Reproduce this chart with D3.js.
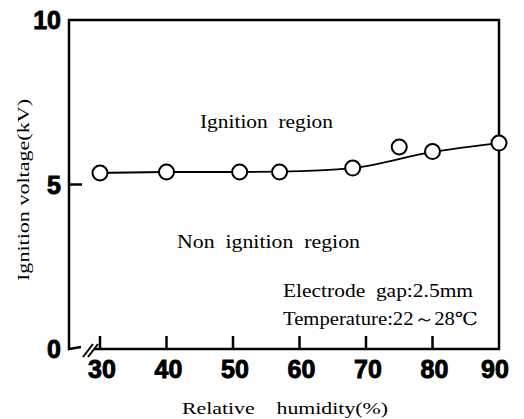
<!DOCTYPE html>
<html>
  <head>
    <meta charset="utf-8">
    <title>Ignition voltage vs relative humidity</title>
    <style>
      body { margin: 0; background: #fff; }
      text { fill: #000; }
      .serif { font-family: 'Liberation Serif', 'DejaVu Serif', serif; }
      .num { font-family: 'Liberation Sans', Arial, sans-serif; font-weight: bold; font-size: 25px; stroke: #000; stroke-width: 0.9px; }
    </style>
  </head>
  <body>
    <script src="https://d3js.org/d3.v7.min.js"></script>
    <svg id="chart" width="524" height="419"></svg>
    <script>
      // measured points
      const humidity = [30, 40, 51, 57, 68, 75, 80, 90]
      const voltage = [5.35, 5.38, 5.38, 5.38, 5.5, 6.14, 6.0, 6.26]

      // smoothed trend line (drawn through the points, skipping the 75% one)
      const fitHumidity = [30, 40, 51, 57, 68, 80, 90]
      const fitVoltage = [5.35, 5.38, 5.38, 5.39, 5.5, 5.99, 6.26]

      const xTicks = [30, 40, 50, 60, 70, 80, 90]
      const yTicks = [0, 5, 10]

      const svg = d3.select('#chart')

      const x = d3.scaleLinear().domain([30, 90]).range([100, 499])
      const y = d3.scaleLinear().domain([0, 10]).range([349, 20])
      const left = 69

      // frame (bottom has an axis break near the origin)
      const frame = d3.path()
      frame.moveTo(x(30), y(0))
      frame.lineTo(x(90), y(0))
      frame.lineTo(x(90), y(10))
      frame.lineTo(left, y(10))
      frame.lineTo(left, y(0))
      frame.lineTo(left + 12, y(0) - 2)
      svg.append('path')
        .attr('d', frame.toString())
        .attr('fill', 'none')
        .attr('stroke', '#000')
        .attr('stroke-width', 2.5)

      // break marks
      svg.selectAll('line.brk')
        .data([0, 5])
        .join('line')
          .attr('class', 'brk')
          .attr('x1', d => 83 + d)
          .attr('y1', y(0) + 8)
          .attr('x2', d => 93 + d)
          .attr('y2', y(0) - 5)
          .attr('stroke', '#000')
          .attr('stroke-width', 2)
      svg.append('line')
        .attr('x1', 94).attr('x2', x(30))
        .attr('y1', y(0)).attr('y2', y(0))
        .attr('stroke', '#000').attr('stroke-width', 2.5)

      // x ticks (inward)
      svg.selectAll('line.xt')
        .data(xTicks.slice(0, -1))
        .join('line')
          .attr('class', 'xt')
          .attr('x1', d => x(d)).attr('x2', d => x(d))
          .attr('y1', y(0)).attr('y2', y(0) - 13)
          .attr('stroke', '#000').attr('stroke-width', 2.5)

      svg.selectAll('text.xl')
        .data(xTicks)
        .join('text')
          .attr('class', 'xl num')
          .attr('x', (d, i) => x(d) + (i === xTicks.length - 1 ? -4 : 2))
          .attr('y', 378)
          .attr('text-anchor', 'middle')
          .text(d => d)

      // y ticks (inward)
      svg.append('line')
        .attr('x1', left).attr('x2', left + 13)
        .attr('y1', y(5)).attr('y2', y(5))
        .attr('stroke', '#000').attr('stroke-width', 2.5)

      svg.selectAll('text.yl')
        .data(yTicks)
        .join('text')
          .attr('class', 'yl num')
          .attr('x', 61)
          .attr('y', d => y(d) + 9)
          .attr('text-anchor', 'end')
          .text(d => d)

      // trend line
      const line = d3.line()
        .x(d => x(d[0]))
        .y(d => y(d[1]))
        .curve(d3.curveMonotoneX)

      svg.append('path')
        .datum(fitHumidity.map((h, i) => [h, fitVoltage[i]]))
        .attr('d', line)
        .attr('fill', 'none')
        .attr('stroke', '#000')
        .attr('stroke-width', 1.8)

      // points
      svg.selectAll('circle')
        .data(humidity.map((h, i) => [h, voltage[i]]))
        .join('circle')
          .attr('cx', d => x(d[0]))
          .attr('cy', d => y(d[1]))
          .attr('r', 7.5)
          .attr('fill', '#fff')
          .attr('stroke', '#000')
          .attr('stroke-width', 2)

      // annotations
      const notes = [
        { t: 'Ignition  region', x: 200, y: 128, w: 133 },
        { t: 'Non  ignition  region', x: 177, y: 248, w: 183 },
        { t: 'Electrode  gap:2.5mm', x: 283, y: 297, w: 190 },
        { t: 'Temperature:22～28℃', x: 283, y: 325, w: 195 }
      ]
      svg.selectAll('text.note')
        .data(notes)
        .join('text')
          .attr('class', 'note serif')
          .attr('x', d => d.x)
          .attr('y', d => d.y)
          .attr('textLength', d => d.w)
          .attr('lengthAdjust', 'spacingAndGlyphs')
          .style('font-size', '18px')
          .style('white-space', 'pre')
          .text(d => d.t)

      // axis titles
      svg.append('text')
        .attr('class', 'serif')
        .attr('x', 285)
        .attr('y', 414)
        .attr('text-anchor', 'middle')
        .attr('textLength', 206)
        .attr('lengthAdjust', 'spacingAndGlyphs')
        .style('font-size', '17px')
        .style('white-space', 'pre')
        .text('Relative    humidity(%)')

      svg.append('text')
        .attr('class', 'serif')
        .attr('transform', 'translate(29,190) rotate(-90)')
        .attr('text-anchor', 'middle')
        .attr('textLength', 182)
        .attr('lengthAdjust', 'spacingAndGlyphs')
        .style('font-size', '17px')
        .text('Ignition voltage(kV)')
    </script>
  </body>
</html>
